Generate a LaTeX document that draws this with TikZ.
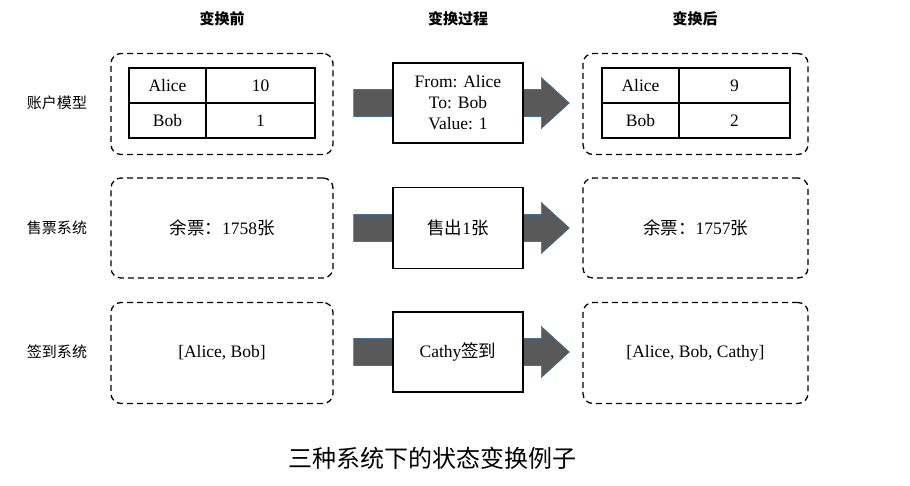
\documentclass[tikz,border=0pt]{standalone}
\usepackage{fontspec}
\setmainfont{Liberation Serif}
\newfontfamily\cjk{Noto Sans CJK SC}
\usetikzlibrary{backgrounds,calc}
\definecolor{arrowfill}{HTML}{595959}
\definecolor{arrowedge}{HTML}{41719C}
\newcommand\zh[1]{{\cjk #1}}
\newcommand\blkarrow[2]{%
  \draw[blk] ($(#1)+(0,-13.5)$) -- ($(#2)+(-28,-13.5)$) -- ($(#2)+(-28,-25.5)$) -- (#2)
    -- ($(#2)+(-28,25.5)$) -- ($(#2)+(-28,13.5)$) -- ($(#1)+(0,13.5)$) -- cycle;}
\begin{document}
\begin{tikzpicture}[x=1pt,y=-1pt,
  dbox/.style={draw, dash pattern=on 6pt off 4pt, line width=1.3pt, rounded corners=10pt,
    minimum width=222pt, minimum height=101pt, inner sep=0pt, align=center,
    font=\fontsize{17.5}{21}\selectfont},
  cell/.style={draw, line width=1.3pt, minimum height=35pt, inner sep=0pt,
    font=\fontsize{17.5}{20}\selectfont},
  mbox/.style={draw, fill=white, line width=1.3pt, minimum width=130pt, minimum height=80pt,
    inner sep=0pt, align=center, font=\fontsize{17.5}{21}\selectfont},
  hdr/.style={font=\cjk\bfseries\fontsize{15}{18}\selectfont},
  rowlab/.style={font=\cjk\fontsize{15}{18}\selectfont},
  blk/.style={fill=arrowfill, draw=arrowedge, line width=0.6pt}]
\useasboundingbox (0,0) rectangle (910,485);

% headers
\node[hdr] (h1) at (222,19) {变换前};
\node[hdr] (h2) at (458,19) {变换过程};
\node[hdr] (h3) at (695,19) {变换后};

% row labels
\node[rowlab] (r1) at (57,103) {账户模型};
\node[rowlab] (r2) at (57,228) {售票系统};
\node[rowlab] (r3) at (57,352) {签到系统};

% dashed boxes
\node[dbox] (L1) at (222,104) {};
\node[dbox, minimum height=100pt] (L2) at (222,228) {\zh{余票：}1758\zh{张}};
\node[dbox] (L3) at (222,353) {[Alice, Bob]};
\node[dbox, minimum width=225pt] (R1) at (695.5,104) {};
\node[dbox, minimum width=225pt, minimum height=100pt] (R2) at (695.5,228) {\zh{余票：}1757\zh{张}};
\node[dbox, minimum width=225pt] (R3) at (695.5,353) {[Alice, Bob, Cathy]};

% tables
\node[cell, minimum width=77pt] (a1) at (167.5,85.5) {Alice};
\node[cell, minimum width=109pt] (a2) at (260.5,85.5) {10};
\node[cell, minimum width=77pt] (a3) at (167.5,120.5) {Bob};
\node[cell, minimum width=109pt] (a4) at (260.5,120.5) {1};
\node[cell, minimum width=77pt] (b1) at (640.5,85.5) {Alice};
\node[cell, minimum width=111pt] (b2) at (734.5,85.5) {9};
\node[cell, minimum width=77pt] (b3) at (640.5,120.5) {Bob};
\node[cell, minimum width=111pt] (b4) at (734.5,120.5) {2};

% middle boxes
\node[mbox] (M1) at (458,103) {From: Alice\\To: Bob\\Value: 1};
\node[mbox, minimum height=81pt] (M2) at (458,228) {\zh{售出}1\zh{张}};
\node[mbox] (M3) at (458,352) {Cathy\zh{签到}};

% block arrows behind middle boxes
\begin{scope}[on background layer]
  \coordinate (s1) at ($(L1.east)+(20,-1)$); \coordinate (t1) at ($(R1.west)+(-13,-1)$);
  \coordinate (s2) at ($(L2.east)+(20,0)$);  \coordinate (t2) at ($(R2.west)+(-13,0)$);
  \coordinate (s3) at ($(L3.east)+(20,-1)$); \coordinate (t3) at ($(R3.west)+(-13,-1)$);
  \blkarrow{s1}{t1}
  \blkarrow{s2}{t2}
  \blkarrow{s3}{t3}
\end{scope}

% caption
\node[font=\cjk\fontsize{24}{28}\selectfont] (cap) at (432,458) {三种系统下的状态变换例子};
\end{tikzpicture}
\end{document}
